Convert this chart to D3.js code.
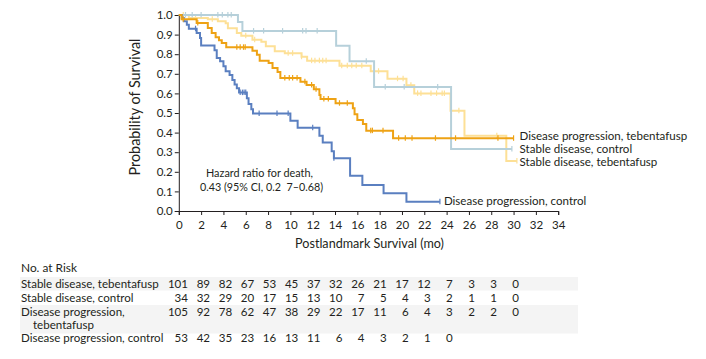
<!DOCTYPE html>
<html><head><meta charset="utf-8">
<script src="https://cdn.jsdelivr.net/npm/d3@7"></script>
<style>
body{margin:0;background:#fff}
svg{display:block}
text{font-family:Lato,"Open Sans",sans-serif;fill:#231f20}
</style>
</head><body>
<svg id="c" width="706" height="359"></svg>
<script>
// ---------- data ----------
const xTickValues = [0,2,4,6,8,10,12,14,16,18,20,22,24,26,28,30,32,34];
const yTickValues = [0,0.1,0.2,0.3,0.4,0.5,0.6,0.7,0.8,0.9,1.0];
const seriesNames = ["Stable disease, tebentafusp","Stable disease, control","Disease progression, tebentafusp","Disease progression, control"];
const seriesColors = ["#fde096","#b6d0da","#eea214","#5a7fc0"];

// [month, survival] at each drop (step-after)
const sdTebSteps = [[0,1.0],[0.9,0.985],[2.6,0.978],[3.5,0.968],[4.2,0.958],[4.4,0.932],[5.2,0.908],[5.6,0.894],[6.6,0.874],[7.4,0.864],[7.8,0.84],[8.6,0.815],[9.5,0.805],[11.0,0.787],[11.5,0.767],[14.4,0.741],[17.2,0.713],[18.7,0.675],[20.4,0.641],[21.1,0.600],[24.35,0.512],[25.6,0.384],[29.35,0.255]];
const sdTebEnd = 30.3;
const sdTebCensor = [0.4,1.5,3.0,6.0,6.8,9.8,10.2,11.0,11.9,12.2,12.6,12.9,13.2,14.6,15.1,15.5,15.9,16.4,17.9,19.6,20.1,20.8,21.4,21.7,22.6,23.1,23.6,23.8,25.1,28.5,30.3];

const sdCtrlSteps = [[0,1.0],[5.3,0.964],[5.7,0.918],[14.1,0.843],[15.3,0.764],[17.5,0.633],[24.4,0.316]];
const sdCtrlEnd = 29.85;
const sdCtrlCensor = [0.6,1.2,2.0,3.5,3.9,4.4,4.7,6.7,7.6,9.3,11.1,11.4,12.4,16.8,18.5,20.2,23.2,29.85];

const dpTebSteps = [[0,1.0],[0.25,0.978],[1.6,0.959],[2.6,0.934],[2.95,0.908],[3.3,0.886],[3.6,0.871],[3.85,0.857],[4.25,0.835],[6.6,0.818],[7.0,0.797],[7.25,0.767],[8.05,0.755],[8.4,0.730],[8.85,0.709],[9.1,0.679],[10.9,0.660],[11.45,0.643],[12.1,0.621],[12.6,0.592],[12.7,0.571],[14.05,0.550],[15.6,0.524],[15.75,0.493],[16.0,0.464],[16.5,0.444],[16.8,0.410],[19.2,0.371]];
const dpTebEnd = 30.0;
const dpTebCensor = [0.4,1.7,5.2,5.5,5.8,5.95,9.5,9.9,10.2,10.6,11.3,11.9,12.3,13.0,13.4,14.4,15.1,17.2,17.35,18.3,19.7,20.3,20.9,23.0,24.8,28.6,30.0];

const dpCtrlSteps = [[0,1.0],[0.27,0.985],[0.45,0.968],[0.72,0.95],[0.9,0.93],[1.6,0.908],[1.9,0.883],[2.0,0.845],[3.2,0.82],[3.4,0.781],[3.7,0.764],[4.0,0.738],[4.2,0.713],[4.55,0.694],[4.8,0.668],[5.0,0.646],[5.2,0.626],[5.4,0.604],[6.1,0.575],[6.25,0.546],[6.5,0.519],[6.65,0.498],[10.0,0.461],[10.65,0.425],[12.6,0.384],[12.9,0.35],[13.7,0.305],[13.9,0.269],[15.35,0.18],[16.45,0.133],[18.35,0.09],[20.4,0.047]];
const dpCtrlEnd = 23.4;
const dpCtrlCensor = [1.5,5.5,5.7,5.85,6.0,7.2,8.8,9.8,12.0,13.9,23.4];

// number at risk
const riskMonths = [0,2,4,6,8,10,12,14,16,18,20,22,24,26,28,30];
const riskSdTeb = [101,89,82,67,53,45,37,32,26,21,17,12,7,3,3,0];
const riskSdCtrl = [34,32,29,20,17,15,13,10,7,5,4,3,2,1,1,0];
const riskDpTeb = [105,92,78,62,47,38,29,22,17,11,6,4,3,2,2,0];
const riskDpCtrl = [53,42,35,23,16,13,11,6,4,3,2,1,0];

const hazardLines = ["Hazard ratio for death,","0.43 (95% CI, 0.2\u00a0\u00a07\u20130.68)"];

// ---------- drawing ----------
const svg = d3.select("#c");
const x = d3.scaleLinear().domain([0,34]).range([178.8,558.2]);
const y = d3.scaleLinear().domain([0,1]).range([211,15]);

function widthAt(str, fs){
  const t = svg.append("text").attr("font-size",fs).text(str);
  const w = t.node().getComputedTextLength(); t.remove(); return w;
}
const baseFS = 11 * 142.5 / widthAt("Disease progression, control", 11);
function fitText(sel, target){
  const fs = parseFloat(sel.attr("font-size"));
  const w = sel.node().getComputedTextLength();
  sel.attr("font-size", fs*target/w);
  return sel;
}

// axes
const gx = svg.append("g").attr("transform",`translate(0,${y(0)})`)
  .call(d3.axisBottom(x).tickValues(xTickValues).tickSize(4).tickPadding(6).tickFormat(d3.format("d")));
const gy = svg.append("g").attr("transform",`translate(${x(0)},0)`)
  .call(d3.axisLeft(y).tickValues(yTickValues).tickSize(4).tickPadding(2).tickFormat(d3.format(".1f")));
[gx,gy].forEach(g=>{
  g.select(".domain").attr("stroke","#231f20").attr("stroke-width",1);
  g.selectAll(".tick line").attr("stroke","#231f20");
  g.selectAll(".tick text").attr("font-family",null).attr("font-size",baseFS).style("fill","#231f20");
});

// axis titles
fitText(svg.append("text").attr("x",(x(0)+x(34))/2+1).attr("y",244).attr("dy","0.35em")
  .attr("text-anchor","middle").attr("font-size",12).text("Postlandmark Survival (mo)"),149);
fitText(svg.append("text").attr("transform",`translate(135,${(y(0)+y(1))/2-6}) rotate(-90)`).attr("dy","0.35em")
  .attr("text-anchor","middle").attr("font-size",12).text("Probability of Survival"),137);

// curves
const series = [
  {steps:sdTebSteps,end:sdTebEnd,censor:sdTebCensor,color:seriesColors[0],name:seriesNames[0],labelShift:0.5},
  {steps:sdCtrlSteps,end:sdCtrlEnd,censor:sdCtrlCensor,color:seriesColors[1],name:seriesNames[1],labelShift:0},
  {steps:dpCtrlSteps,end:dpCtrlEnd,censor:dpCtrlCensor,color:seriesColors[3],name:seriesNames[3],labelShift:-0.5},
  {steps:dpTebSteps,end:dpTebEnd,censor:dpTebCensor,color:seriesColors[2],name:seriesNames[2],labelShift:-2.2}
];
const line = d3.line().x(d=>x(d[0])).y(d=>y(d[1])).curve(d3.curveStepAfter);
function survAt(steps,t){ let s=steps[0][1]; for(const p of steps){ if(p[0]<=t) s=p[1]; } return s; }

series.forEach(s=>{
  const pts = s.steps.concat([[s.end, s.steps[s.steps.length-1][1]]]);
  const g = svg.append("g");
  g.append("path").attr("d",line(pts)).attr("fill","none").attr("stroke",s.color).attr("stroke-width",2);
  g.selectAll("line.c").data(s.censor).join("line")
    .attr("x1",d=>x(d)).attr("x2",d=>x(d))
    .attr("y1",d=>y(survAt(s.steps,d))-3).attr("y2",d=>y(survAt(s.steps,d))+2.5)
    .attr("stroke",s.color).attr("stroke-width",1.2);
});

// curve labels
series.forEach(s=>{
  const last = s.steps[s.steps.length-1][1];
  const lx = s.name===seriesNames[3] ? x(s.end)+4 : x(30)+6;
  svg.append("text").attr("x",lx).attr("y",y(last)+s.labelShift).attr("dy","0.35em")
    .attr("font-size",baseFS).text(s.name);
});

// hazard ratio text
fitText(svg.append("text").attr("x",206).attr("y",173).attr("dy","0.35em").attr("font-size",baseFS).text(hazardLines[0]),107);
fitText(svg.append("text").attr("x",200).attr("y",187).attr("dy","0.35em").attr("font-size",baseFS)
  .style("white-space","pre").text(hazardLines[1]),123);

// number at risk table
const colX = d3.scaleLinear().domain([0,30]).range([188,519]);
svg.insert("rect","g").attr("x",20).attr("y",277).attr("width",558).attr("height",13.5).attr("fill","#f4f4f4");
svg.insert("rect","g").attr("x",20).attr("y",305).attr("width",558).attr("height",28.5).attr("fill","#f4f4f4");
fitText(svg.append("text").attr("x",21).attr("y",268).attr("dy","0.35em").attr("font-size",12).text("No. at Risk"),56);

const rows = [
  {label:["Stable disease, tebentafusp"],vals:riskSdTeb,y:284.3},
  {label:["Stable disease, control"],vals:riskSdCtrl,y:298.3},
  {label:["Disease progression,","tebentafusp"],vals:riskDpTeb,y:311.7},
  {label:["Disease progression, control"],vals:riskDpCtrl,y:338.3}
];
rows.forEach(r=>{
  r.label.forEach((l,i)=>{
    svg.append("text").attr("x",i===0?21:33).attr("y",r.y+i*13.3).attr("dy","0.35em")
      .attr("font-size",baseFS).text(l);
  });
  svg.append("g").selectAll("text").data(r.vals).join("text")
    .attr("x",(d,i)=>colX(riskMonths[i])).attr("y",r.y).attr("dy","0.35em")
    .attr("text-anchor","end").attr("font-size",baseFS).text(d=>d);
});
</script>
</body></html>
